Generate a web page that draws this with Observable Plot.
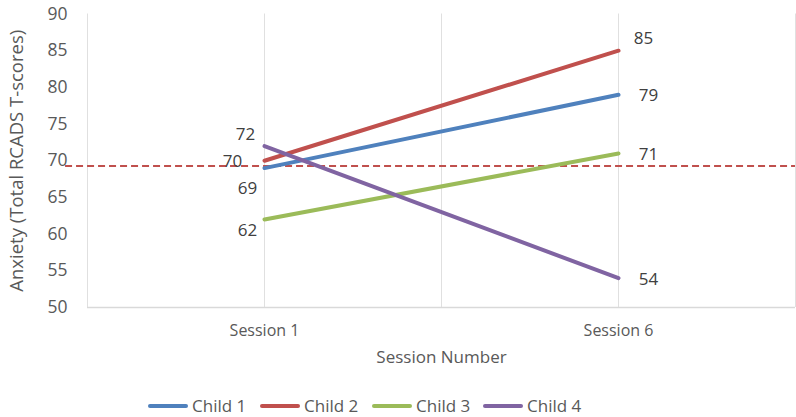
<!DOCTYPE html>
<html><head><meta charset="utf-8">
<script src="https://cdn.jsdelivr.net/npm/d3@7"></script>
<script src="https://cdn.jsdelivr.net/npm/@observablehq/plot@0.6"></script>
<style>
body{margin:0;background:#fff;font-family:"Open Sans",sans-serif;}
#legend{position:relative;height:32px;width:796px;}
.item{position:absolute;top:11px;display:flex;align-items:center;font-size:17px;color:#595959;line-height:20px;}
.sw{width:40px;height:4px;border-radius:2px;margin-right:4px;}
</style></head><body><div id="chart"></div><div id="legend"></div>
<script>
const sessions = ["Session 1", "Session 6"];
const children = ["Child 1", "Child 2", "Child 3", "Child 4"];
const child1 = [69, 79];
const child2 = [70, 85];
const child3 = [62, 71];
const child4 = [72, 54];
const cutoff = 69.3;
const yTicks = [50, 55, 60, 65, 70, 75, 80, 85, 90];
const yTitle = "Anxiety (Total RCADS T-scores)";
const xTitle = "Session Number";

const colors = ["#4F81BD", "#C0504D", "#9BBB59", "#8064A2"];
const labelOffsets = [
  [[-17, 20], [30, 1]],
  [[-32, 1], [25, -12]],
  [[-17, 11], [30, 1]],
  [[-19, -12], [30, 1]]
];
const legendLeft = [148, 260, 372, 483];

const series = [child1, child2, child3, child4];
const xPos = sessions.map((s, i) => 1 + 2 * i);
const data = series.flatMap((vals, ci) => vals.map((v, si) => ({
  child: children[ci], ci, session: sessions[si], x: xPos[si], y: v,
  dx: labelOffsets[ci][si][0], dy: labelOffsets[ci][si][1]
})));

const chart = Plot.plot({
  width: 796, height: 385,
  marginLeft: 87, marginRight: 1, marginTop: 13.5, marginBottom: 78,
  style: {fontFamily: "'Open Sans', sans-serif", fontSize: "17px", background: "#fff"},
  x: {type: "linear", domain: [0, 4]},
  y: {domain: [50, 90]},
  color: {domain: children, range: colors},
  marks: [
    Plot.gridX([0, 1, 2, 3, 4], {stroke: "#e0e0e0", strokeOpacity: 1, strokeWidth: 1}),
    Plot.ruleY([50], {stroke: "#d9d9d9", strokeWidth: 1.5}),
    Plot.axisY({ticks: yTicks, tickSize: 0, tickPadding: 20, label: null, color: "#595959", fontSize: 17.5}),
    Plot.axisX({ticks: xPos, tickSize: 0, tickPadding: 17, label: null, color: "#595959", fontSize: 16,
      tickFormat: d => sessions[xPos.indexOf(d)]}),
    Plot.ruleY([cutoff], {x1: -0.124, x2: 4, stroke: "#C0504D", strokeWidth: 2, strokeDasharray: "7,4"}),
    Plot.line(data, {x: "x", y: "y", z: "child", stroke: "child", strokeWidth: 4, strokeLinecap: "round"}),
    ...data.map(d => Plot.text([d], {x: "x", y: "y", text: d => String(d.y), dx: d.dx, dy: d.dy,
      fill: "#404040", fontSize: 17})),
    Plot.text([xTitle], {frameAnchor: "bottom", dy: 55, fill: "#595959", fontSize: 17}),
    Plot.text([yTitle], {frameAnchor: "left", textAnchor: "middle", dx: -70, rotate: -90, fill: "#595959", fontSize: 18.5})
  ]
});
document.getElementById("chart").appendChild(chart);

const legend = document.getElementById("legend");
children.forEach((c, i) => {
  const it = document.createElement("div");
  it.className = "item";
  it.style.left = legendLeft[i] + "px";
  it.innerHTML = `<div class="sw" style="background:${colors[i]}"></div><span>${c}</span>`;
  legend.appendChild(it);
});
</script>
</body></html>
